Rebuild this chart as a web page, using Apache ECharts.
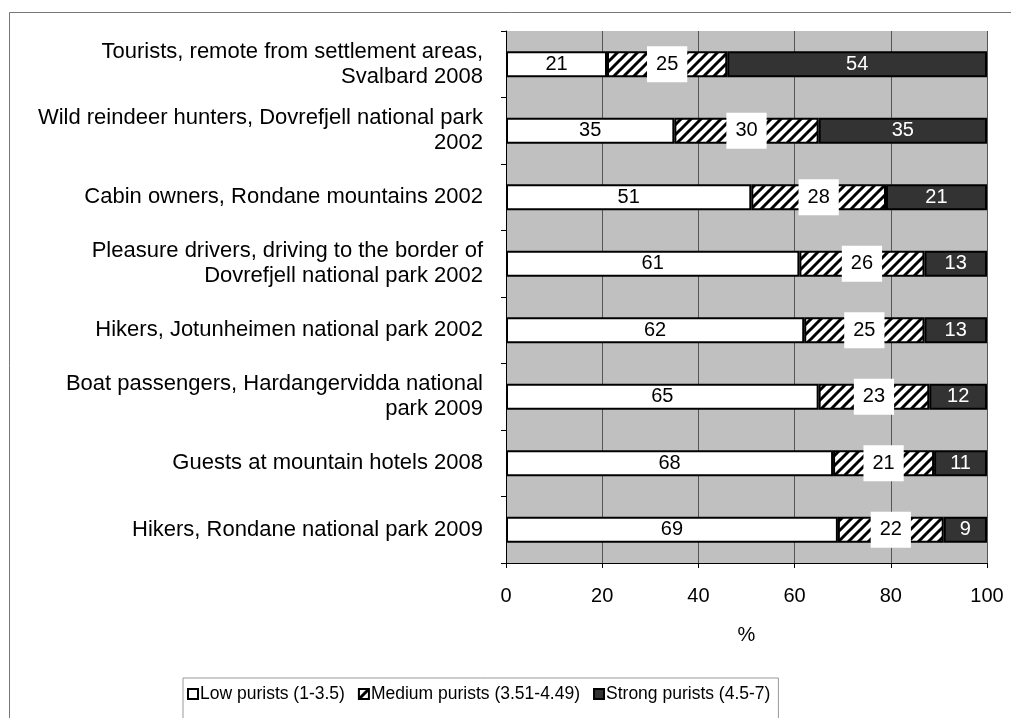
<!DOCTYPE html>
<html>
<head>
<meta charset="utf-8">
<script src="https://cdn.jsdelivr.net/npm/echarts@6/dist/echarts.min.js"></script>
<style>
  html, body { margin: 0; padding: 0; background: #fff; }
  #main { width: 1011px; height: 718px; }
</style>
</head>
<body>
<div id="main"></div>
<script>
var categories = [
    'Tourists, remote from settlement areas,\nSvalbard 2008',
    'Wild reindeer hunters, Dovrefjell national park\n2002',
    'Cabin owners, Rondane mountains 2002',
    'Pleasure drivers, driving to the border of\nDovrefjell national park 2002',
    'Hikers, Jotunheimen national park 2002',
    'Boat passengers, Hardangervidda national\npark 2009',
    'Guests at mountain hotels 2008',
    'Hikers, Rondane national park 2009'
];
var lowPurists = [21, 35, 51, 61, 62, 65, 68, 69];
var mediumPurists = [25, 30, 28, 26, 25, 23, 21, 22];
var strongPurists = [54, 35, 21, 13, 13, 12, 11, 9];
var seriesNames = ['Low purists (1-3.5)', 'Medium purists (3.51-4.49)', 'Strong purists (4.5-7)'];
var xTicks = [0, 20, 40, 60, 80, 100];

// hatch pattern for the medium group
var tile = document.createElement('canvas');
tile.width = 10;
tile.height = 10;
var ctx = tile.getContext('2d');
ctx.fillStyle = '#fff';
ctx.fillRect(0, 0, 10, 10);
ctx.strokeStyle = '#000';
ctx.lineWidth = 3;
ctx.beginPath();
ctx.moveTo(-1, 11); ctx.lineTo(11, -1);
ctx.moveTo(-6, 6); ctx.lineTo(6, -6);
ctx.moveTo(4, 16); ctx.lineTo(16, 4);
ctx.stroke();
var hatch = { image: tile, repeat: 'repeat' };

var font = 'Liberation Sans, Arial, sans-serif';

var myChart = echarts.init(document.getElementById('main'));
var option = {
    animation: false,
    textStyle: { fontFamily: font },
    graphic: [{
        type: 'rect',
        left: 7, top: 10,
        shape: { width: 1100, height: 800 },
        style: { fill: 'none', stroke: '#777', lineWidth: 1 },
        silent: true,
        z: -10
    }],
    grid: {
        left: 506, right: 24, top: 31, bottom: 155,
        show: true,
        backgroundColor: '#c0c0c0',
        borderWidth: 0
    },
    legend: {
        left: 183, top: 678,
        padding: [7, 8, 30, 4],
        borderColor: '#999',
        borderWidth: 1,
        itemWidth: 10, itemHeight: 10,
        itemGap: 13,
        textStyle: { fontSize: 17.5, color: '#000', fontFamily: font, padding: [0, 0, 0, -3] },
        data: seriesNames.map(function (n) { return { name: n, icon: 'rect' }; })
    },
    xAxis: {
        type: 'value',
        min: 0, max: 100, interval: 20,
        name: '%',
        nameLocation: 'middle',
        nameGap: 62,
        nameTextStyle: { fontSize: 20, color: '#000' },
        axisLine: { show: true, lineStyle: { color: '#000', width: 1 } },
        axisTick: { show: true, length: 5, lineStyle: { color: '#000' } },
        axisLabel: {
            fontSize: 20, color: '#000', margin: 23,
            formatter: function (v) { return xTicks.indexOf(v) >= 0 ? String(v) : ''; }
        },
        splitLine: { show: true, lineStyle: { color: '#555', width: 1 } }
    },
    yAxis: {
        type: 'category',
        inverse: true,
        data: categories,
        axisLine: { show: true, lineStyle: { color: '#000', width: 1 } },
        axisTick: { show: true, length: 5, lineStyle: { color: '#000' } },
        axisLabel: {
            fontSize: 22, color: '#000', margin: 23,
            align: 'right', lineHeight: 25
        },
        splitLine: { show: false }
    },
    series: [{
        name: seriesNames[0],
        type: 'bar',
        stack: 'total',
        barWidth: 26,
        data: lowPurists,
        itemStyle: { color: '#fff', borderColor: '#000', borderWidth: 2 },
        label: { show: true, position: 'inside', color: '#000', fontSize: 20 }
    }, {
        name: seriesNames[1],
        type: 'bar',
        stack: 'total',
        barWidth: 26,
        data: mediumPurists,
        itemStyle: { color: hatch, borderColor: '#000', borderWidth: 2 },
        label: {
            show: true, position: 'inside', color: '#000', fontSize: 20,
            backgroundColor: '#fff', padding: [8, 9]
        }
    }, {
        name: seriesNames[2],
        type: 'bar',
        stack: 'total',
        barWidth: 26,
        data: strongPurists,
        itemStyle: { color: '#333333', borderColor: '#000', borderWidth: 2 },
        label: { show: true, position: 'inside', color: '#fff', fontSize: 20 }
    }]
};
myChart.setOption(option);
</script>
</body>
</html>
